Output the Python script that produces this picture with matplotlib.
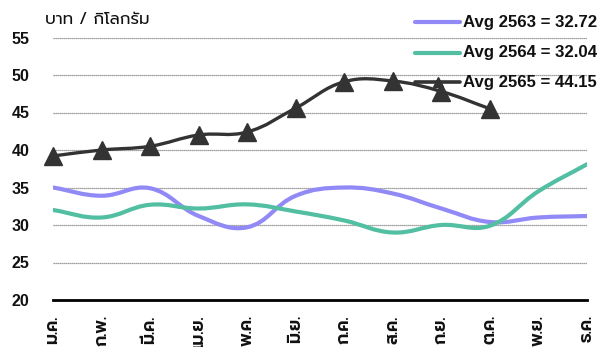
import matplotlib
matplotlib.use("Agg")
import numpy as np
import matplotlib.pyplot as plt
from matplotlib.path import Path
from matplotlib.patches import PathPatch
from matplotlib.lines import Line2D

months = ["ม.ค.", "ก.พ.", "มี.ค.", "เม.ย.", "พ.ค.", "มิ.ย.",
          "ก.ค.", "ส.ค.", "ก.ย.", "ต.ค.", "พ.ย.", "ธ.ค."]
y2563 = [35.0, 33.9, 34.9, 31.2, 29.7, 33.9, 35.0, 34.2, 32.2, 30.4, 31.0, 31.2]
y2564 = [32.0, 31.0, 32.7, 32.2, 32.75, 31.8, 30.6, 29.0, 30.0, 29.9, 34.5, 38.1]
y2565 = [39.2, 40.0, 40.5, 42.0, 42.4, 45.6, 49.1, 49.2, 47.8, 45.5]
labels = ["Avg 2563 = 32.72", "Avg 2564 = 32.04", "Avg 2565 = 44.15"]
ylabel = "บาท / กิโลกรัม"
yticks = [20, 25, 30, 35, 40, 45, 50, 55]

C1 = "#9189f5"
C2 = "#52bfa2"
C3 = "#333333"
THAI = ["Prompt", "DejaVu Sans"]
LAT = ["Liberation Sans", "DejaVu Sans"]

W, H = 601, 347
fig = plt.figure(figsize=(W / 100, H / 100), dpi=100)
ax = fig.add_axes([53 / W, 1 - 300 / H, (587 - 53) / W, (300 - 37.5) / H])
ax.set_xlim(0, 11)
ax.set_ylim(20, 55)


def spline(ax, xs, ys, tension=0.4, **kw):
    # Chart.js-like bezier spline, control points computed in display space
    pts = ax.transData.transform(np.column_stack([xs, ys]))
    n = len(pts)
    cps_prev, cps_next = [], []
    for i in range(n):
        p = pts[i]
        pr = pts[i - 1] if i > 0 else p
        nx = pts[i + 1] if i < n - 1 else p
        d01 = np.hypot(*(p - pr))
        d12 = np.hypot(*(nx - p))
        tot = d01 + d12
        s01 = d01 / tot if tot else 0
        s12 = d12 / tot if tot else 0
        fa, fb = tension * s01, tension * s12
        cps_prev.append(p - fa * (nx - pr))
        cps_next.append(p + fb * (nx - pr))
    verts = [pts[0]]
    codes = [Path.MOVETO]
    for i in range(n - 1):
        verts += [cps_next[i], cps_prev[i + 1], pts[i + 1]]
        codes += [Path.CURVE4] * 3
    verts = ax.transData.inverted().transform(np.array(verts))
    patch = PathPatch(Path(verts, codes), fill=False, transform=ax.transData,
                      capstyle="round", joinstyle="round", **kw)
    ax.add_patch(patch)


x = np.arange(12)
for yv in yticks[1:]:
    ax.axhline(yv, color="#808080", lw=0.9, ls=(0, (1, 0.6)), zorder=1)

spline(ax, x, y2563, edgecolor=C1, lw=3.0, zorder=3)
spline(ax, x, y2564, edgecolor=C2, lw=3.0, zorder=3)
spline(ax, x[:len(y2565)], y2565, edgecolor=C3, lw=2.4, zorder=4)
ax.plot(x[:len(y2565)], y2565, ls="none", marker="^", ms=12.5, color=C3,
        markeredgecolor=C3, zorder=5, clip_on=False)

for s in ["top", "right", "left"]:
    ax.spines[s].set_visible(False)
ax.spines["bottom"].set_color("black")
ax.spines["bottom"].set_linewidth(2.0)
ax.spines["bottom"].set_zorder(6)

ax.set_yticks(yticks)
ax.set_yticklabels([str(v) for v in yticks], family=LAT, fontsize=11.5, weight="bold",
                   color="#111111")
ax.tick_params(axis="y", length=0, pad=17)
ax.set_xticks(x)
ax.set_xticklabels(months, rotation=90, family=THAI, fontsize=12.5, weight="semibold",
                   color="#111111", va="top", ha="center")
ax.tick_params(axis="x", length=0, pad=11)

fig.text(45 / W, 1 - 20 / H, ylabel, family=THAI, fontsize=12, va="center", ha="left",
         color="#111111")

# legend
rows_y = [22, 52.5, 82]
cols = [C1, C2, C3]
for ry, c, lab, lw in zip(rows_y, cols, labels, [3.0, 3.0, 2.6]):
    yf = 1 - ry / H
    fig.add_artist(Line2D([415 / W, 460 / W], [yf, yf], color=c, lw=lw,
                          solid_capstyle="round", zorder=7))
    fig.text(463 / W, yf, lab, family=LAT, fontsize=12.1, weight="bold",
             va="center", ha="left", color="#111111", zorder=7)
fig.add_artist(Line2D([437.5 / W], [1 - 82 / H], ls="none", marker="^", ms=7.5,
                      color=C3, zorder=8))

fig.savefig("out.png", dpi=100)
